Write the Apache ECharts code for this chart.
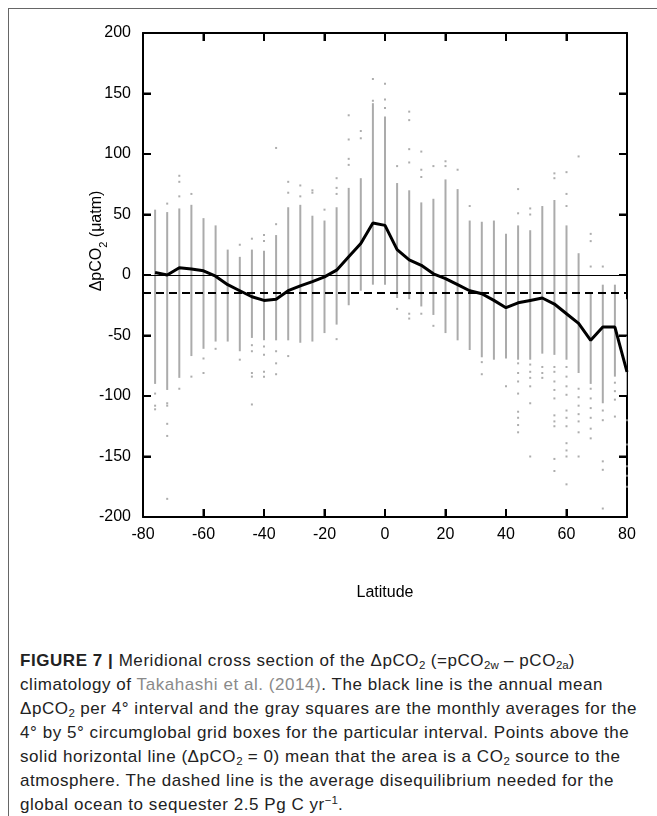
<!DOCTYPE html>
<html>
<head>
<meta charset="utf-8">
<script src="https://cdn.jsdelivr.net/npm/echarts@6/dist/echarts.min.js"></script>
<style>
  html, body { margin: 0; padding: 0; background: #fff; overflow: hidden; }
  #frame { position: absolute; left: 8px; top: 8px; width: 700px; height: 900px; border: 1px solid #666; box-sizing: border-box; }
  #chart { position: absolute; left: 0; top: 0; width: 657px; height: 640px; }
  #caption { position: absolute; left: 20px; top: 649px; font-family: "Liberation Sans", Arial, sans-serif; font-size: 17px; letter-spacing: 0.55px; line-height: 24px; color: #222; white-space: nowrap; }
  #caption .ref { color: #8a8a8a; }
  #caption sub { font-size: 11.5px; vertical-align: -3px; line-height: 0; letter-spacing: 0; }
  #caption sup { font-size: 11.5px; vertical-align: 6px; line-height: 0; letter-spacing: 0; }
</style>
</head>
<body>
<div id="frame"></div>
<div id="chart"></div>
<div id="caption">
<b>FIGURE 7 |</b> Meridional cross section of the ΔpCO<sub>2</sub> (=pCO<sub>2w</sub> – pCO<sub>2a</sub>)<br>
climatology of <span class="ref">Takahashi et al. (2014)</span>. The black line is the annual mean<br>
ΔpCO<sub>2</sub> per 4° interval and the gray squares are the monthly averages for the<br>
4° by 5° circumglobal grid boxes for the particular interval. Points above the<br>
solid horizontal line (ΔpCO<sub>2</sub> = 0) mean that the area is a CO<sub>2</sub> source to the<br>
atmosphere. The dashed line is the average disequilibrium needed for the<br>
global ocean to sequester 2.5 Pg C yr<sup>−1</sup>.
</div>
<script>
// Latitude bin centres (4° intervals)
const lats = [-76,-72,-68,-64,-60,-56,-52,-48,-44,-40,-36,-32,-28,-24,-20,-16,-12,-8,-4,0,
              4,8,12,16,20,24,28,32,36,40,44,48,52,56,60,64,68,72,76,80];
// Annual mean ΔpCO2 per interval (black line)
const meanDelta = [2,0,6,5,3.5,-1,-8,-13,-18,-21,-20,-13,-9,-5.5,-1.5,4,15,26,43,41,
                   21,12.5,8,1,-3,-8,-13,-15.5,-21,-27,-23,-21,-19,-24,-32,-40,-54,-43,-43,-80];
// Dense range of monthly grid-box values per interval (gray columns)
const colHigh = [54,52,55,58,47,41,21,15,21,20,33,56,58,49,45,56,72,80,142,131,
                 76,70,60,63,79,71,45,44,45,34,41,37,57,62,41,18,-15,-8,-8,-20];
const colLow  = [-90,-95,-85,-67,-61,-55,-55,-63,-52,-54,-54,-54,-56,-55,-48,-41,-25,-13,-8,-8,
                 -19,-20,-26,-33,-48,-54,-62,-68,-70,-69,-70,-70,-65,-66,-70,-81,-90,-106,-84,-100];
// Isolated monthly grid-box values outside the dense range [latitude, ΔpCO2]
const outliers = [
  [-76,-98],[-76,-108],[-76,-111],
  [-72,59],[-72,-106],[-72,-108],[-72,-123],[-72,-133],[-72,-185],
  [-68,82],[-68,77],[-68,65],[-68,-94],
  [-64,67],[-64,-84],
  [-60,-69],[-60,-81],
  [-56,-61],
  [-48,25],[-48,-70],
  [-44,30],[-44,-58],[-44,-63],[-44,-81],[-44,-84],[-44,-107],
  [-40,33],[-40,28],[-40,-59],[-40,-66],[-40,-80],[-40,-84],
  [-36,105],[-36,42],[-36,-63],[-36,-73],[-36,-82],
  [-32,77],[-32,68],[-32,-67],
  [-28,74],[-28,65],
  [-24,70],[-24,68],
  [-20,54],
  [-16,80],[-16,72],[-16,67],[-16,-53],
  [-12,132],[-12,112],[-12,96],[-12,91],
  [-8,119],[-8,113],
  [-4,162],[-4,144],
  [0,158],[0,145],[0,138],
  [4,90],[4,-28],
  [8,135],[8,128],[8,104],[8,93],[8,-32],[8,-36],
  [12,102],[12,87],[12,81],[12,-32],
  [16,90],[16,-42],
  [20,94],[20,90],
  [24,87],
  [28,57],
  [32,-72],[32,-82],
  [40,-92],
  [44,71],[44,51],[44,-73],[44,-81],[44,-88],[44,-98],[44,-113],[44,-118],[44,-124],[44,-130],
  [48,55],[48,50],[48,-74],[48,-80],[48,-85],[48,-92],[48,-106],[48,-150],
  [52,-76],[52,-81],[52,-85],
  [56,84],[56,80],[56,-76],[56,-80],[56,-88],[56,-95],[56,-102],[56,-116],[56,-121],[56,-125],[56,-152],[56,-162],
  [60,85],[60,67],[60,57],[60,-76],[60,-84],[60,-92],[60,-99],[60,-112],[60,-118],[60,-125],[60,-139],[60,-145],[60,-150],[60,-173],
  [64,98],[64,-94],[64,-101],[64,-108],[64,-115],[64,-121],[64,-130],[64,-150],
  [68,34],[68,28],[68,7],[68,-94],[68,-102],[68,-110],[68,-118],[68,-127],[68,-135],
  [72,7],[72,-112],[72,-120],[72,-154],[72,-161],[72,-193],
  [76,-89],[76,-96],[76,-103],[76,-117],
  [80,-120],[80,-140],[80,-158],[80,-166],[80,-175]
];
// Reference lines
const zeroLevel = 0;
const sequesterLevel = -14.5;
// Axis settings and tick values
const xTicks = { min: -80, max: 80, interval: 20 };
const yTicks = { min: -200, max: 200, interval: 50 };
const xTickValues = [-60,-40,-20,0,20,40,60];
const yTickValues = [-150,-100,-50,0,50,100,150];

const FONT = '"Liberation Sans", Arial, sans-serif';
const TICK = 8;
const chart = echarts.init(document.getElementById('chart'));

function axisStyle() {
  return {
    axisLine: { show: true, onZero: false, lineStyle: { color: '#000', width: 2 } },
    axisTick: { show: true, inside: true, length: TICK, lineStyle: { color: '#000', width: 2 } },
    splitLine: { show: false }
  };
}

const colData = lats.map((l, i) => [l, colLow[i], colHigh[i]]);

const titleText = {
  type: 'text', x: 97, y: 241, rotation: Math.PI / 2,
  style: {
    text: '{a|ΔpCO}{b|2}{a| (μatm)}',
    rich: {
      a: { fontSize: 16, fontFamily: FONT, fill: '#000', lineHeight: 24, verticalAlign: 'middle' },
      b: { fontSize: 11, fontFamily: FONT, fill: '#000', lineHeight: 12, verticalAlign: 'bottom' }
    },
    align: 'center', verticalAlign: 'middle'
  }
};

chart.setOption({
  animation: false,
  grid: { left: 143, right: 30, top: 33, bottom: 123 },
  xAxis: [
    Object.assign({ type: 'value', position: 'bottom', min: xTicks.min, max: xTicks.max, interval: xTicks.interval,
      axisLabel: { color: '#000', fontSize: 16, fontFamily: FONT, margin: 10 },
      name: 'Latitude', nameLocation: 'middle', nameGap: 68,
      nameTextStyle: { color: '#000', fontSize: 16, fontFamily: FONT } }, axisStyle()),
    Object.assign({ type: 'value', position: 'top', min: xTicks.min, max: xTicks.max, interval: xTicks.interval,
      axisLabel: { show: false } }, axisStyle())
  ],
  yAxis: [
    Object.assign({ type: 'value', position: 'left', min: yTicks.min, max: yTicks.max, interval: yTicks.interval,
      axisLabel: { color: '#000', fontSize: 16, fontFamily: FONT, margin: 12 } }, axisStyle()),
    Object.assign({ type: 'value', position: 'right', min: yTicks.min, max: yTicks.max, interval: yTicks.interval,
      axisLabel: { show: false } }, axisStyle())
  ],
  graphic: [titleText],
  series: [
    {
      type: 'custom', name: 'range', clip: true, z: 1,
      data: colData,
      renderItem: function (params, api) {
        const p1 = api.coord([api.value(0), api.value(1)]);
        const p2 = api.coord([api.value(0), api.value(2)]);
        return { type: 'line', shape: { x1: p1[0], y1: p1[1], x2: p2[0], y2: p2[1] },
                 style: { stroke: '#ababab', lineWidth: 2 } };
      }
    },
    {
      type: 'scatter', name: 'monthly', z: 2, clip: true,
      symbol: 'rect', symbolSize: 2,
      itemStyle: { color: '#999' },
      data: outliers
    },
    {
      type: 'line', name: 'annual mean', z: 5,
      data: lats.map((l, i) => [l, meanDelta[i]]),
      showSymbol: false, symbol: 'none',
      lineStyle: { color: '#000', width: 3 },
      markLine: {
        silent: true, symbol: 'none', label: { show: false },
        data: [
          { yAxis: zeroLevel, lineStyle: { color: '#000', width: 1, type: 'solid' } },
          { yAxis: sequesterLevel, lineStyle: { color: '#000', width: 2, type: [8, 5] } }
        ]
      }
    }
  ]
});

// Inward tick marks on all four frame edges, positioned through the chart's own scales
const tickEls = [];
const tickStyle = { stroke: '#000', lineWidth: 2 };
xTickValues.forEach(v => {
  const b = chart.convertToPixel({ gridIndex: 0 }, [v, yTicks.min]);
  const t = chart.convertToPixel({ gridIndex: 0 }, [v, yTicks.max]);
  tickEls.push({ type: 'line', z: 100, silent: true, shape: { x1: b[0], y1: b[1], x2: b[0], y2: b[1] - TICK }, style: tickStyle });
  tickEls.push({ type: 'line', z: 100, silent: true, shape: { x1: t[0], y1: t[1], x2: t[0], y2: t[1] + TICK }, style: tickStyle });
});
yTickValues.forEach(v => {
  const l = chart.convertToPixel({ gridIndex: 0 }, [xTicks.min, v]);
  const r = chart.convertToPixel({ gridIndex: 0 }, [xTicks.max, v]);
  tickEls.push({ type: 'line', z: 100, silent: true, shape: { x1: l[0], y1: l[1], x2: l[0] + TICK, y2: l[1] }, style: tickStyle });
  tickEls.push({ type: 'line', z: 100, silent: true, shape: { x1: r[0], y1: r[1], x2: r[0] - TICK, y2: r[1] }, style: tickStyle });
});
chart.setOption({ graphic: [titleText].concat(tickEls) });
</script>
</body>
</html>
